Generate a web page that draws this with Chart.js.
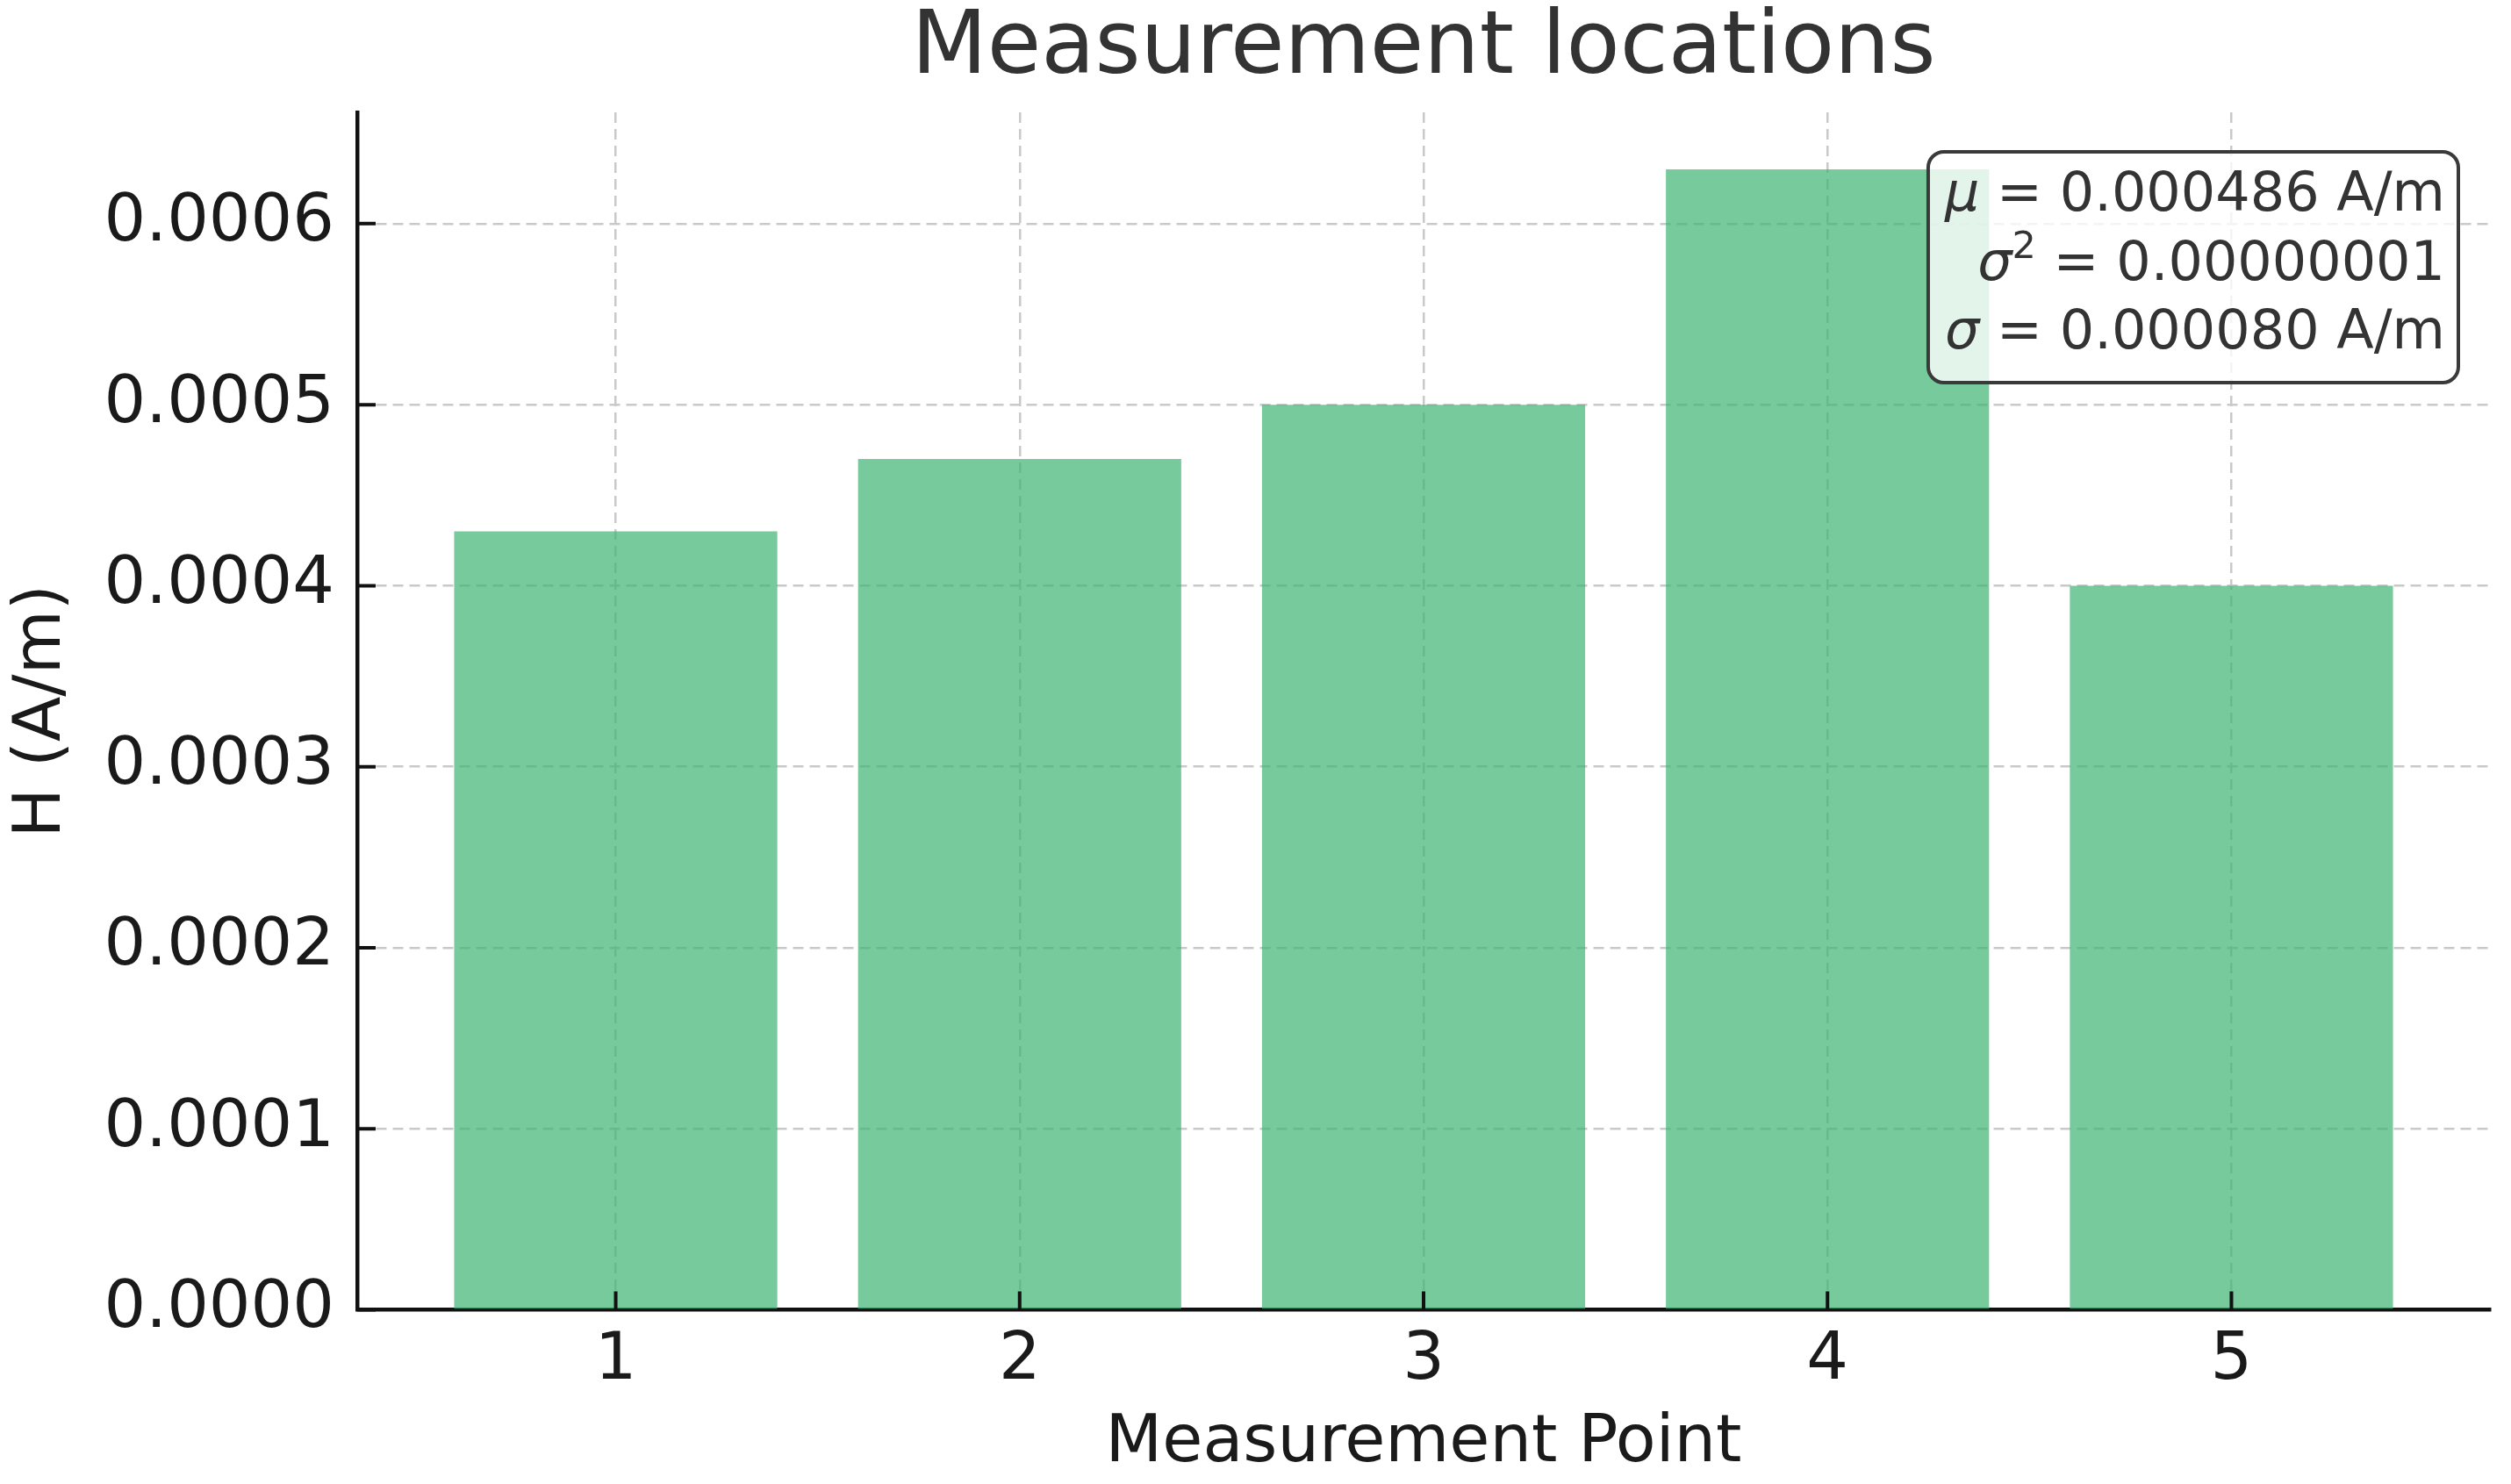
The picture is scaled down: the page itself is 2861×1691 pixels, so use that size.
<!DOCTYPE html>
<html>
<head>
<meta charset="utf-8">
<script src="https://cdn.jsdelivr.net/npm/chart.js@4/dist/chart.umd.min.js"></script>
<style>
  html, body { margin: 0; padding: 0; background: #fff; }
  canvas { display: block; }
</style>
</head>
<body>
<canvas id="barChart" width="2861" height="1691"></canvas>
<script>
// data
const chartTitle = 'Measurement locations';
const points = [1, 2, 3, 4, 5];
const hValues = [0.00043, 0.00047, 0.0005, 0.00063, 0.0004];
const yTicks = [0, 0.0001, 0.0002, 0.0003, 0.0004, 0.0005, 0.0006];
const statLines = [
    [{ t: 'μ', it: true }, { t: ' = 0.000486 A/m' }],
    [{ t: 'σ', it: true }, { t: '2', sup: true }, { t: ' = 0.00000001' }],
    [{ t: 'σ', it: true }, { t: ' = 0.000080 A/m' }]
];

const FONT = 'DejaVu Sans';
Chart.defaults.font.family = FONT;

// matplotlib-style margins
const xMin = points[0] - 0.4 - 0.05 * (points.length - 1 + 0.8);
const xMax = points[points.length - 1] + 0.4 + 0.05 * (points.length - 1 + 0.8);
const yMax = Math.max(...hValues) * 1.05;

// title centred on the axes, not on the canvas
const axesTitle = {
    id: 'axesTitle',
    afterDraw(chart) {
        const { ctx, chartArea } = chart;
        ctx.save();
        ctx.font = `100px "${FONT}"`;
        ctx.fillStyle = '#333';
        ctx.textAlign = 'center';
        ctx.textBaseline = 'middle';
        ctx.fillText(chartTitle, (chartArea.left + chartArea.right) / 2, 57);
        ctx.restore();
    }
};

// inward tick marks like the original
const innerTicks = {
    id: 'innerTicks',
    afterDraw(chart) {
        const { ctx, chartArea, scales } = chart;
        ctx.save();
        ctx.strokeStyle = '#111';
        ctx.lineWidth = 4;
        ctx.beginPath();
        yTicks.forEach(v => {
            const y = scales.y.getPixelForValue(v);
            ctx.moveTo(chartArea.left, y);
            ctx.lineTo(chartArea.left + 21, y);
        });
        points.forEach(v => {
            const x = scales.x.getPixelForValue(v);
            ctx.moveTo(x, chartArea.bottom);
            ctx.lineTo(x, chartArea.bottom - 21);
        });
        ctx.stroke();
        ctx.restore();
    }
};

// stats box in the upper right corner
const statsBox = {
    id: 'statsBox',
    afterDraw(chart) {
        const { ctx, chartArea } = chart;
        const size = 62;
        const fontFor = p => p.sup ? `${Math.round(size * 0.7)}px "${FONT}"`
            : (p.it ? `italic ${size}px "${FONT}"` : `${size}px "${FONT}"`);
        ctx.save();
        const widths = statLines.map(line => line.reduce((w, p) => {
            ctx.font = fontFor(p);
            return w + ctx.measureText(p.t).width;
        }, 0));
        const maxW = Math.max(...widths);
        const right = chartArea.right - 36;
        const top = chartArea.top + 45;
        const w = maxW + 34;
        const h = 263;
        const left = right - w;

        ctx.beginPath();
        ctx.roundRect(left, top, w, h, 18);
        ctx.fillStyle = 'rgba(255,255,255,0.8)';
        ctx.fill();
        ctx.lineWidth = 4;
        ctx.strokeStyle = '#3a3a3a';
        ctx.stroke();

        ctx.fillStyle = '#333';
        ctx.textBaseline = 'middle';
        ctx.textAlign = 'left';
        statLines.forEach((line, i) => {
            const cy = top + 51 + i * 78.5;
            let x = right - 15 - widths[i];
            line.forEach(p => {
                ctx.font = fontFor(p);
                ctx.fillText(p.t, x, p.sup ? cy - 20 : cy);
                x += ctx.measureText(p.t).width;
            });
        });
        ctx.restore();
    }
};

const gridStyle = {
    color: '#c9c9c9',
    lineWidth: 2.5,
    drawTicks: false,
    offset: false
};

const ctx = document.getElementById('barChart').getContext('2d');
new Chart(ctx, {
    type: 'bar',
    data: {
        datasets: [{
            data: points.map((p, i) => ({ x: p, y: hValues[i] })),
            backgroundColor: 'rgba(60,179,113,0.7)',
            borderWidth: 0,
            categoryPercentage: 0.8,
            barPercentage: 1.0
        }]
    },
    options: {
        responsive: false,
        animation: false,
        devicePixelRatio: 1,
        layout: { padding: { left: 0, right: 24, top: 128, bottom: 0 } },
        plugins: {
            legend: { display: false },
            tooltip: { enabled: false },
            title: { display: false }
        },
        scales: {
            x: {
                type: 'linear',
                min: xMin,
                max: xMax,
                offset: false,
                z: 1,
                afterBuildTicks: scale => { scale.ticks = points.map(v => ({ value: v })); },
                afterFit: scale => { scale.height = 198.5; },
                grid: { ...gridStyle },
                border: { display: true, color: '#111', width: 4.5, dash: [12, 7] },
                ticks: {
                    color: '#1a1a1a',
                    font: { size: 75 },
                    padding: 14,
                    maxRotation: 0,
                    callback: v => String(v)
                },
                title: {
                    display: true,
                    text: 'Measurement Point',
                    color: '#1a1a1a',
                    font: { size: 75 },
                    padding: { top: 0, bottom: 0 }
                }
            },
            y: {
                min: 0,
                max: yMax,
                z: 1,
                afterBuildTicks: scale => { scale.ticks = yTicks.map(v => ({ value: v })); },
                afterFit: scale => { scale.width = 407; },
                grid: { ...gridStyle },
                border: { display: true, color: '#111', width: 4.5, dash: [12, 7] },
                ticks: {
                    color: '#1a1a1a',
                    font: { size: 75 },
                    padding: 26,
                    callback: v => Number(v).toFixed(4)
                },
                title: {
                    display: true,
                    text: 'H (A/m)',
                    color: '#1a1a1a',
                    font: { size: 75 },
                    padding: { top: 4, bottom: 0 }
                }
            }
        }
    },
    plugins: [axesTitle, innerTicks, statsBox]
});
</script>
</body>
</html>
